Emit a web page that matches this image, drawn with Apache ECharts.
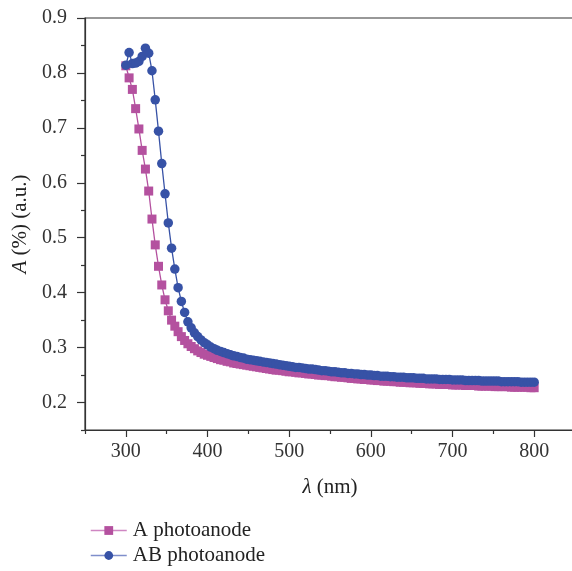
<!DOCTYPE html>
<html>
  <head>
    <meta charset="utf-8" />
    <script src="https://cdn.jsdelivr.net/npm/echarts@6/dist/echarts.min.js"></script>
    <style>
      html, body { margin: 0; padding: 0; background: #fff; }
    </style>
  </head>
  <body>
  <div id="main" style="width: 572px;height:571px;"></div>

  <script type="text/javascript">
    // wavelength grid: 300..800 nm every 4 nm
    var wavelengths = [];
    for (var w = 300; w <= 800; w += 4) wavelengths.push(w);

    // A photoanode (squares)
    var aValues = [
      0.813, 0.791, 0.770, 0.735, 0.698, 0.659, 0.625, 0.585, 0.534, 0.487,
      0.448, 0.414, 0.387, 0.367, 0.350, 0.339, 0.329, 0.320, 0.313, 0.307,
      0.302, 0.298, 0.294, 0.291, 0.288, 0.286, 0.284, 0.282, 0.280, 0.278,
      0.277, 0.275, 0.274, 0.272, 0.271, 0.270, 0.269, 0.268, 0.267, 0.266,
      0.265, 0.264, 0.263, 0.262, 0.261, 0.260, 0.259, 0.259, 0.258, 0.257,
      0.256, 0.256, 0.255, 0.254, 0.254, 0.253, 0.252, 0.252, 0.251, 0.250,
      0.250, 0.249, 0.249, 0.248, 0.247, 0.247, 0.246, 0.246, 0.245, 0.244,
      0.244, 0.243, 0.243, 0.242, 0.242, 0.241, 0.241, 0.240, 0.240, 0.239,
      0.239, 0.239, 0.238, 0.238, 0.237, 0.237, 0.237, 0.236, 0.236, 0.236,
      0.235, 0.235, 0.235, 0.234, 0.234, 0.234, 0.233, 0.233, 0.233, 0.233,
      0.232, 0.232, 0.232, 0.232, 0.231, 0.231, 0.231, 0.231, 0.230, 0.230,
      0.230, 0.230, 0.230, 0.229, 0.229, 0.229, 0.229, 0.229, 0.228, 0.228,
      0.228, 0.228, 0.228, 0.228, 0.227, 0.227
    ];

    // AB photoanode (circles)
    var abValues = [
      0.814, 0.837, 0.817, 0.818, 0.821, 0.830, 0.845, 0.836, 0.804, 0.751,
      0.694, 0.635, 0.580, 0.527, 0.481, 0.443, 0.409, 0.384, 0.364, 0.347,
      0.336, 0.327, 0.320, 0.314, 0.309, 0.305, 0.301, 0.298, 0.295, 0.293,
      0.291, 0.289, 0.287, 0.285, 0.284, 0.282, 0.281, 0.279, 0.278, 0.277,
      0.276, 0.275, 0.274, 0.273, 0.272, 0.271, 0.270, 0.269, 0.268, 0.267,
      0.266, 0.265, 0.264, 0.264, 0.263, 0.262, 0.261, 0.261, 0.260, 0.259,
      0.258, 0.258, 0.257, 0.256, 0.256, 0.255, 0.254, 0.254, 0.253, 0.253,
      0.252, 0.252, 0.251, 0.251, 0.250, 0.250, 0.249, 0.249, 0.248, 0.248,
      0.248, 0.247, 0.247, 0.246, 0.246, 0.246, 0.245, 0.245, 0.245, 0.244,
      0.244, 0.244, 0.243, 0.243, 0.243, 0.243, 0.242, 0.242, 0.242, 0.242,
      0.241, 0.241, 0.241, 0.241, 0.240, 0.240, 0.240, 0.240, 0.240, 0.239,
      0.239, 0.239, 0.239, 0.239, 0.239, 0.238, 0.238, 0.238, 0.238, 0.238,
      0.238, 0.237, 0.237, 0.237, 0.237, 0.237
    ];

    // ticks
    var xMajorTicks = [300, 400, 500, 600, 700, 800];
    var xMinorTicks = [250, 350, 450, 550, 650, 750, 850];
    var yMajorTicks = [0.2, 0.3, 0.4, 0.5, 0.6, 0.7, 0.8, 0.9];
    var yMinorTicks = [0.15, 0.25, 0.35, 0.45, 0.55, 0.65, 0.75, 0.85];

    function pairs(xs, ys) {
      var out = [];
      for (var i = 0; i < ys.length; i++) out.push([xs[i], ys[i]]);
      return out;
    }

    var font = '"Liberation Serif", "DejaVu Serif", serif';
    var axisColor = '#333';
    var pink = '#b4519f';
    var blue = '#3752a6';
    var labelSize = 20;
    var titleSize = 21;

    var myChart = echarts.init(document.getElementById('main'));

    var option = {
      animation: false,
      backgroundColor: '#fff',
      grid: {
        left: 85, top: 18, width: 490, height: 412,
        outerBoundsMode: 'none',
        containLabel: false,
        show: true, borderColor: axisColor, borderWidth: 1.2,
        backgroundColor: 'transparent'
      },
      legend: {
        orient: 'vertical',
        left: 85,
        top: 515,
        height: 56,
        itemWidth: 36,
        itemHeight: 11,
        itemGap: 4,
        textStyle: { fontFamily: font, fontSize: titleSize, color: '#222', padding: [0, 0, 0, 1] },
        data: [
          { name: 'A photoanode', lineStyle: { color: '#cf86c2', width: 1.5 } },
          { name: 'AB photoanode', lineStyle: { color: '#7f8ecb', width: 1.5 } }
        ]
      },
      xAxis: [
        {
          type: 'value', min: 250, max: 850,
          name: '{i|λ} (nm)', nameLocation: 'middle', nameGap: 47,
          nameTextStyle: { fontFamily: font, fontSize: titleSize, color: '#222',
            rich: { i: { fontFamily: font, fontSize: titleSize, fontStyle: 'italic', color: '#222' } } },
          axisLine: { lineStyle: { color: axisColor, width: 1.2 } },
          axisTick: { show: true, length: 7, customValues: xMajorTicks, lineStyle: { color: axisColor, width: 1.2 } },
          axisLabel: { customValues: xMajorTicks, margin: 12, fontFamily: font, fontSize: labelSize, color: '#333' },
          splitLine: { show: false }
        },
        {
          type: 'value', min: 250, max: 850, position: 'bottom',
          axisLine: { show: false },
          axisTick: { show: true, length: 4, customValues: xMinorTicks, lineStyle: { color: axisColor, width: 1.2 } },
          axisLabel: { show: false },
          splitLine: { show: false }
        }
      ],
      yAxis: [
        {
          type: 'value', min: 0.15, max: 0.9,
          name: '{i|A} (%) (a.u.)', nameLocation: 'middle', nameGap: 54,
          nameTextStyle: { fontFamily: font, fontSize: titleSize, color: '#222',
            rich: { i: { fontFamily: font, fontSize: titleSize, fontStyle: 'italic', color: '#222' } } },
          axisLine: { show: true, lineStyle: { color: axisColor, width: 1.2 } },
          axisTick: { show: true, length: 8, customValues: yMajorTicks, lineStyle: { color: axisColor, width: 1.2 } },
          axisLabel: { customValues: yMajorTicks, margin: 18, fontFamily: font, fontSize: labelSize, color: '#333',
            formatter: function (v) { return v.toFixed(1); } },
          splitLine: { show: false }
        },
        {
          type: 'value', min: 0.15, max: 0.9, position: 'left',
          axisLine: { show: false },
          axisTick: { show: true, length: 4, customValues: yMinorTicks, lineStyle: { color: axisColor, width: 1.2 } },
          axisLabel: { show: false },
          splitLine: { show: false }
        }
      ],
      series: [
        {
          name: 'A photoanode',
          type: 'line',
          xAxisIndex: 0, yAxisIndex: 0,
          data: pairs(wavelengths, aValues),
          symbol: 'rect',
          symbolSize: 9,
          showAllSymbol: true,
          itemStyle: { color: pink },
          lineStyle: { color: pink, width: 1.3 }
        },
        {
          name: 'AB photoanode',
          type: 'line',
          xAxisIndex: 0, yAxisIndex: 0,
          data: pairs(wavelengths, abValues),
          symbol: 'circle',
          symbolSize: 9.5,
          showAllSymbol: true,
          itemStyle: { color: blue },
          lineStyle: { color: blue, width: 1.3 }
        }
      ]
    };

    myChart.setOption(option);
  </script>
</body>
</html>
